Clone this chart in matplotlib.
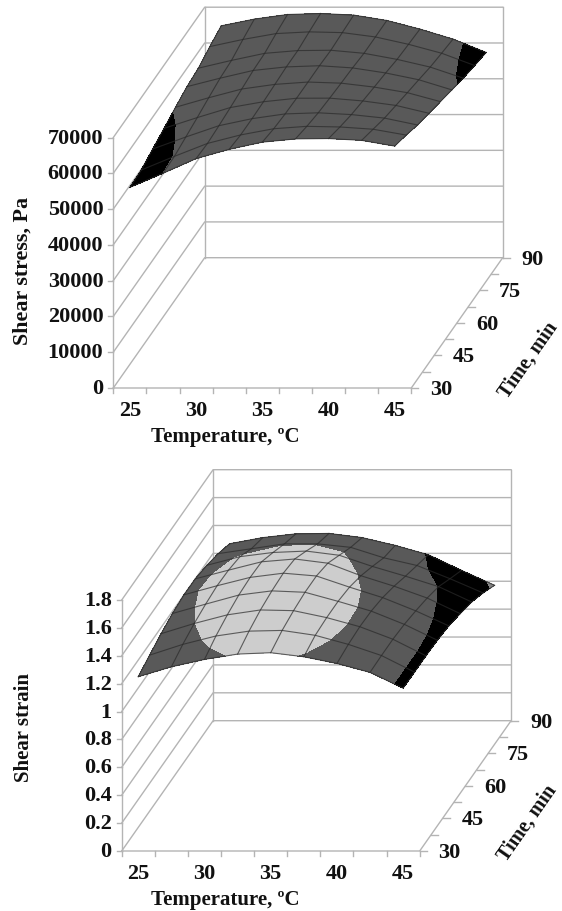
#!/usr/bin/env python
## Two oblique 3D surface charts (Excel style), shear stress and shear strain

import numpy as np
from matplotlib import pyplot as plt

plt.rcParams['font.family'] = ['Liberation Serif', 'DejaVu Serif']
plt.rcParams['font.weight'] = 'bold'

temps = [25, 27.5, 30, 32.5, 35, 37.5, 40, 42.5, 45]
times = [30, 37.5, 45, 52.5, 60, 67.5, 75, 82.5, 90]
temp_labels = [25, 30, 35, 40, 45]
time_labels = [30, 45, 60, 75, 90]

# rows = time, columns = temperature
stress = [
    [56060, 60000, 64100, 66700, 68700, 69600, 69700, 69200, 67600],
    [56360, 60180, 63800, 66170, 67900, 68570, 68390, 67760, 66130],
    [57680, 61040, 64200, 66160, 67490, 67800, 67300, 66320, 64390],
    [58920, 61910, 64720, 66340, 67320, 67340, 66560, 65310, 63110],
    [60250, 62900, 65340, 66640, 67290, 66980, 65880, 64320, 61820],
    [61460, 63820, 65980, 66970, 67300, 66690, 65280, 63380, 60550],
    [62070, 64240, 66210, 66980, 67070, 66220, 64520, 62370, 59270],
    [63550, 65540, 67180, 67660, 67450, 66240, 64180, 61690, 58250],
    [64800, 66670, 67960, 68240, 67790, 66290, 63880, 61080, 57350],
]
stress_ticks = [0, 10000, 20000, 30000, 40000, 50000, 60000, 70000]
stress_levels = [50000, 60000, 70000]
stress_colors = ['black', '#595959']

strain = [
    [1.250, 1.321, 1.374, 1.412, 1.422, 1.393, 1.345, 1.281, 1.168],
    [1.288, 1.365, 1.425, 1.460, 1.465, 1.430, 1.365, 1.285, 1.166],
    [1.325, 1.398, 1.460, 1.495, 1.490, 1.440, 1.375, 1.285, 1.166],
    [1.353, 1.420, 1.485, 1.515, 1.505, 1.440, 1.370, 1.275, 1.161],
    [1.370, 1.435, 1.495, 1.525, 1.505, 1.425, 1.350, 1.255, 1.147],
    [1.368, 1.430, 1.490, 1.510, 1.480, 1.390, 1.315, 1.230, 1.118],
    [1.348, 1.410, 1.440, 1.450, 1.420, 1.340, 1.270, 1.195, 1.085],
    [1.315, 1.350, 1.385, 1.385, 1.360, 1.285, 1.230, 1.135, 1.033],
    [1.269, 1.313, 1.340, 1.343, 1.313, 1.257, 1.190, 1.078, 0.971],
]
strain_ticks = [0, 0.2, 0.4, 0.6, 0.8, 1, 1.2, 1.4, 1.6, 1.8]
strain_levels = [0.8, 1.0, 1.2, 1.4, 1.6]
strain_colors = ['#858585', 'black', '#595959', '#cdcdcd']

wall = '#b4b4b4'


def panel(ax, z, zticks, levels, colors, x0, y0, zmax_px, ylabel, ylabel_xy, ylabel_size, time_xy):
    step = 298.0 / 9
    wdx, wdy = 91.4, 130.3

    def px(k, t):
        return x0 + step * k + wdx * (np.asarray(t) - 30.0) / 60.0

    def py(t, val):
        return y0 - wdy * (np.asarray(t) - 30.0) / 60.0 - np.asarray(val) * zmax_px / zticks[-1]

    # walls and floor
    for v in zticks:
        ax.plot([px(0, 30), px(0, 90), px(9, 90)], [py(30, v), py(90, v), py(90, v)], color=wall, lw=1, zorder=1)
        ax.plot([px(0, 30) - 5, px(0, 30)], [py(30, v), py(30, v)], color=wall, lw=1, zorder=1)
        ax.text(px(0, 30) - 10, py(30, v) + 1, str(v), ha='right', va='center', fontsize=16, color='#111111')
    ax.plot([px(0, 30), px(0, 30)], [py(30, 0), py(30, zticks[-1])], color=wall, lw=1, zorder=1)
    ax.plot([px(0, 90), px(0, 90)], [py(90, 0), py(90, zticks[-1])], color=wall, lw=1, zorder=1)
    ax.plot([px(9, 90), px(9, 90)], [py(90, 0), py(90, zticks[-1])], color=wall, lw=1, zorder=1)
    ax.plot([px(0, 30), px(9, 30), px(9, 90)], [py(30, 0), py(30, 0), py(90, 0)], color=wall, lw=1, zorder=1)

    # axis ticks
    for k in range(10):
        ax.plot([px(k, 30), px(k, 30)], [y0, y0 + 5], color=wall, lw=1, zorder=1)
    for t in times:
        ax.plot([px(9, t), px(9, t) + 7], [py(t, 0), py(t, 0)], color=wall, lw=1, zorder=1)

    for lab in temp_labels:
        k = temps.index(lab) * 1.0
        ax.text(px(k + 0.5, 30), y0 + 23, str(lab), ha='center', va='center', fontsize=16, color='#111111')
    for t in time_labels:
        ax.text(px(9, t) + 30, py(t, 0) + 2, str(t), ha='center', va='center', fontsize=16, color='#111111')

    # the surface
    tt, kk = np.meshgrid(np.array(times), np.arange(len(temps)) + 0.5, indexing='ij')
    z = np.array(z)
    X = px(kk, tt)
    Y = py(tt, z)
    ax.contourf(X, Y, z, levels=levels, colors=colors, zorder=2)
    ax.plot(X, Y, color='#2a2a2a', lw=0.8, alpha=0.7, zorder=3)
    ax.plot(X.T, Y.T, color='#2a2a2a', lw=0.8, alpha=0.7, zorder=3)

    ax.text(225, y0 + 49, 'Temperature, ºC', ha='center', va='center', fontsize=15, color='#111111')
    ax.text(ylabel_xy[0], ylabel_xy[1], ylabel, ha='center', va='center', rotation=90,
            fontsize=ylabel_size, color='#111111')
    ax.text(time_xy[0], time_xy[1], 'Time, min', ha='center', va='center', rotation=55,
            rotation_mode='anchor', fontsize=14.5, color='#111111')


fig = plt.figure(figsize=(5.62, 9.11), dpi=100)
ax = fig.add_axes([0, 0, 1, 1])
ax.set_xlim(0, 562)
ax.set_ylim(911, 0)
ax.axis('off')

panel(ax, stress, stress_ticks, stress_levels, stress_colors, 113.3, 388, 250.5,
      'Shear stress, Pa', (23, 271), 15.8, (528, 360))
panel(ax, strain, strain_ticks, strain_levels, strain_colors, 121.7, 851, 251,
      'Shear strain', (24, 727), 15, (527, 823))

fig.savefig('out.png', dpi=100)
